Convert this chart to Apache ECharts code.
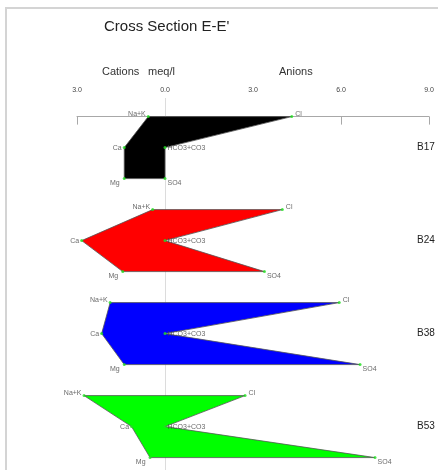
<!DOCTYPE html>
<html>
<head>
<meta charset="utf-8">
<script src="https://cdn.jsdelivr.net/npm/echarts@6/dist/echarts.min.js"></script>
<style>
  html, body { margin: 0; padding: 0; background: #fff; }
  #chart { width: 438px; height: 470px; }
</style>
</head>
<body>
<div id="chart"></div>
<script>
// Stiff diagrams, meq/l. Cations plotted to the left of zero, anions to the right.
const samples = ['B17', 'B24', 'B38', 'B53'];
const naK  = [0.57, 0.42, 1.87, 2.76];
const ca   = [1.39, 2.84, 2.16, 1.14];
const mg   = [1.39, 1.44, 1.39, 0.51];
const cl   = [4.32, 4.00, 5.94, 2.73];
const hco3 = [0.00, 0.00, 0.00, 0.00];
const so4  = [0.00, 3.39, 6.65, 7.16];
const ionNames = ['Na+K', 'Cl', 'Ca', 'HCO3+CO3', 'Mg', 'SO4'];
const xTicks = [-3, 0, 3, 6, 9];
const fills = ['#000000', '#ff0000', '#0000ff', '#00ff00'];

const FONT = '"Liberation Sans", Arial, sans-serif';

// first row index of each diagram (three rows per sample)
const rowOf = i => i * 3;

// polygon records: one per sample
const polyData = samples.map((s, i) => [naK[i], cl[i], ca[i], hco3[i], mg[i], so4[i], rowOf(i), i]);

// vertex label placement for each ion
const labelPos = {
  'Na+K':     { position: 'left',  distance: 1, offset: [0, -3] },
  'Cl':       { position: 'right', distance: 2, offset: [0, -3] },
  'Ca':       { position: 'left',  distance: 1, offset: [0, 0] },
  'HCO3+CO3': { position: 'right', distance: 1, offset: [0, 0] },
  'Mg':       { position: 'left',  distance: 3, offset: [0, 4] },
  'SO4':      { position: 'right', distance: 1, offset: [0, 4] }
};

const vertexData = [];
samples.forEach((s, i) => {
  const r = rowOf(i);
  const pts = [
    [-naK[i], r], [cl[i], r],
    [-ca[i], r + 1], [hco3[i], r + 1],
    [-mg[i], r + 2], [so4[i], r + 2]
  ];
  pts.forEach((p, k) => {
    const name = ionNames[k];
    vertexData.push({
      value: p,
      name: name,
      label: Object.assign({ show: true, formatter: name }, labelPos[name])
    });
  });
});

const chart = echarts.init(document.getElementById('chart'), null, { renderer: 'canvas' });

chart.setOption({
  animation: false,
  backgroundColor: '#ffffff',
  grid: { left: 77, right: 9, top: 98, bottom: 0, outerBoundsMode: 'none' },
  xAxis: {
    type: 'value',
    position: 'top',
    min: xTicks[0],
    max: xTicks[xTicks.length - 1],
    interval: 3,
    axisLine: { show: true, lineStyle: { color: '#a8a8a8', width: 1 } },
    axisTick: { show: true, inside: true, length: 8, lineStyle: { color: '#a8a8a8' } },
    axisLabel: {
      margin: 4,
      fontSize: 7,
      color: '#444',
      fontFamily: FONT,
      formatter: v => Math.abs(v).toFixed(1)
    },
    splitLine: { show: false }
  },
  yAxis: {
    type: 'value',
    inverse: true,
    min: -0.6,
    max: 11.4,
    show: false
  },
  graphic: [
    { type: 'rect', shape: { x: 6, y: 8, width: 600, height: 600 },
      style: { fill: 'none', stroke: '#d4d4d4', lineWidth: 2 }, silent: true },
    { type: 'text', x: 104, y: 27,
      style: { text: "Cross Section E-E'", font: '15px ' + FONT, fill: '#222', textVerticalAlign: 'middle' } },
    { type: 'text', x: 102, y: 72,
      style: { text: 'Cations', font: '11px ' + FONT, fill: '#333', textVerticalAlign: 'middle' } },
    { type: 'text', x: 148, y: 72,
      style: { text: 'meq/l', font: '11px ' + FONT, fill: '#333', textVerticalAlign: 'middle' } },
    { type: 'text', x: 279, y: 72,
      style: { text: 'Anions', font: '11px ' + FONT, fill: '#333', textVerticalAlign: 'middle' } }
  ],
  series: [
    {
      // zero reference line, kept behind the diagrams
      type: 'line',
      data: [],
      z: 1,
      markLine: {
        silent: true,
        symbol: 'none',
        z: 1,
        label: { show: false },
        lineStyle: { color: '#dcdcdc', width: 1, type: 'solid' },
        data: [{ xAxis: 0 }]
      }
    },
    {
      type: 'custom',
      data: polyData,
      z: 3,
      renderItem: function (params, api) {
        const a = api.value(0), c1 = api.value(1), c = api.value(2);
        const h = api.value(3), m = api.value(4), s = api.value(5);
        const r = api.value(6), idx = api.value(7);
        const pts = [
          api.coord([-a, r]),
          api.coord([c1, r]),
          api.coord([h, r + 1]),
          api.coord([s, r + 2]),
          api.coord([-m, r + 2]),
          api.coord([-c, r + 1])
        ];
        const labelAt = api.coord([xTicks[xTicks.length - 1], r + 1]);
        return {
          type: 'group',
          children: [
            {
              type: 'polygon',
              shape: { points: pts },
              style: { fill: fills[idx], stroke: '#555', lineWidth: 0.8 }
            },
            {
              type: 'text',
              x: labelAt[0] - 12,
              y: labelAt[1],
              style: {
                text: samples[idx],
                font: '10px ' + FONT,
                fill: '#222',
                textVerticalAlign: 'middle'
              }
            }
          ]
        };
      }
    },
    {
      type: 'scatter',
      data: vertexData,
      z: 5,
      symbol: 'circle',
      symbolSize: 3,
      itemStyle: { color: '#22e022' },
      label: { fontSize: 7, color: '#444', fontFamily: FONT }
    }
  ]
});
</script>
</body>
</html>
